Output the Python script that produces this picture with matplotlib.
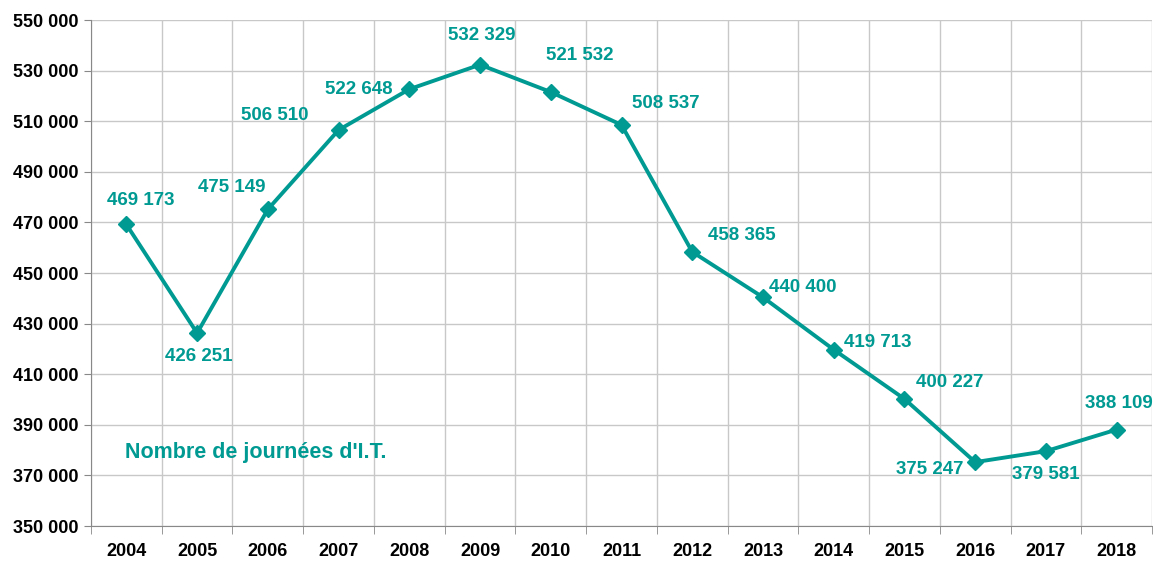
import matplotlib
matplotlib.use("Agg")
import matplotlib.pyplot as plt
from matplotlib import font_manager
from matplotlib.ticker import FuncFormatter

years = [2004, 2005, 2006, 2007, 2008, 2009, 2010, 2011, 2012, 2013, 2014, 2015, 2016, 2017, 2018]
journees = [469173, 426251, 475149, 506510, 522648, 532329, 521532, 508537,
            458365, 440400, 419713, 400227, 375247, 379581, 388109]
y_ticks = [350000, 370000, 390000, 410000, 430000, 450000, 470000, 490000, 510000, 530000, 550000]
# decalage des etiquettes (pixels)
label_dx = [14, 2, -36, -64, -50, 2, 29, 44, 50, 40, 44, 45, -45, 0, 2]
label_dy = [24, -23, 22, 15, 0, 29, 37, 21, 16, 10, 7, 16, -7, -23, 26]

names = {f.name for f in font_manager.fontManager.ttflist}
fam = ['Liberation Sans Narrow', 'DejaVu Sans'] if 'Liberation Sans Narrow' in names else ['Liberation Sans', 'DejaVu Sans']
plt.rcParams['font.family'] = fam

teal = '#009a93'

def fmt(v):
    return f"{int(v):,}".replace(",", " ")

fig = plt.figure(figsize=(11.53, 5.64), dpi=100)
ax = fig.add_axes([91 / 1153, 38 / 564, 1061 / 1153, 506 / 564])

x = list(range(len(years)))
ax.plot(x, journees, color=teal, lw=2.8, marker='D', ms=8.5, zorder=3)

for i, v in enumerate(journees):
    ax.annotate(fmt(v), (x[i], v), xytext=(label_dx[i], label_dy[i]),
                textcoords='offset pixels', ha='center', va='center',
                color=teal, fontsize=13.5, fontweight='bold')

ax.set_xlim(-0.5, len(years) - 0.5)
ax.set_ylim(350000, 550000)
ax.set_yticks(y_ticks)
ax.yaxis.set_major_formatter(FuncFormatter(lambda v, p: fmt(v)))
ax.set_xticks(x)
ax.set_xticklabels([str(y) for y in years])
ax.set_xticks([i - 0.5 for i in range(len(years) + 1)], minor=True)
ax.tick_params(axis='x', which='major', length=0, pad=12)
ax.tick_params(axis='x', which='minor', length=6, color='#888888')
ax.tick_params(axis='y', length=5, color='#888888', pad=4)
for lab in ax.get_xticklabels() + ax.get_yticklabels():
    lab.set_fontweight('bold')
    lab.set_fontsize(13)

ax.grid(True, which='minor', axis='x', color='#c8c8c8', lw=1)
ax.grid(True, which='major', axis='y', color='#c8c8c8', lw=1)
ax.set_axisbelow(True)
for s in ['top', 'right']:
    ax.spines[s].set_visible(False)
ax.spines['left'].set_color('#888888')
ax.spines['bottom'].set_color('#888888')

ax.text(0.032, 0.146, "Nombre de journées d'I.T.", transform=ax.transAxes,
        color=teal, fontsize=15.5, fontweight='bold', ha='left', va='center')

fig.savefig('out.png', dpi=100)
